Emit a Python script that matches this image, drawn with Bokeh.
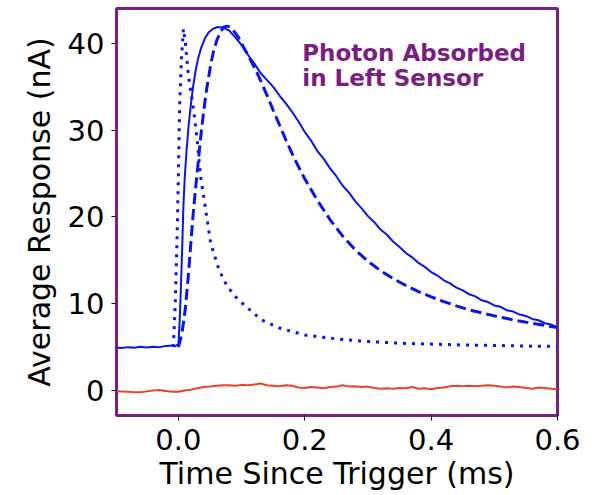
from bokeh.plotting import figure
from bokeh.models import Range1d, FixedTicker, PrintfTickFormatter, Label
from bokeh.embed import file_html
from bokeh.resources import INLINE

# ---- data ----
t_meas = [-0.10, -0.09, -0.08, -0.07, -0.06, -0.05, -0.04, -0.03, -0.02, -0.01, -0.005, 0.0,
          0.002, 0.004, 0.006, 0.008, 0.010, 0.013, 0.016, 0.019, 0.023, 0.027, 0.031, 0.036,
          0.042, 0.048, 0.055, 0.062, 0.07,
          0.08, 0.09, 0.10, 0.11, 0.12, 0.13, 0.14, 0.15, 0.16, 0.17, 0.18, 0.19, 0.20,
          0.21, 0.22, 0.23, 0.24, 0.25, 0.26, 0.27, 0.28, 0.29, 0.30, 0.31, 0.32, 0.33,
          0.34, 0.35, 0.36, 0.37, 0.38, 0.39, 0.40, 0.41, 0.42, 0.43, 0.44, 0.45, 0.46,
          0.47, 0.48, 0.49, 0.50, 0.51, 0.52, 0.53, 0.54, 0.55, 0.56, 0.57, 0.58, 0.59, 0.60]
v_meas = [4.95, 4.9, 5.0, 4.92, 5.05, 4.95, 5.05, 5.0, 5.12, 5.2, 5.1, 5.35,
          8.0, 12.0, 16.5, 21.5, 24.5, 27.8, 30.4, 32.5, 34.9, 36.8, 38.2, 39.5,
          40.6, 41.3, 41.7, 41.9, 41.85,
          41.5, 40.7, 39.8, 38.7, 37.7, 36.6, 35.8, 35.0, 34.0, 33.1, 32.1, 31.0, 29.8,
          28.8, 27.6, 26.7, 25.6, 24.7, 23.6, 22.8, 21.8, 21.0, 20.1, 19.4, 18.55, 17.95,
          17.15, 16.55, 15.85, 15.35, 14.7, 14.25, 13.65, 13.25, 12.7, 12.35, 11.85, 11.55, 11.1,
          10.85, 10.4, 10.2, 9.8, 9.65, 9.25, 9.1, 8.75, 8.6, 8.25, 8.1, 7.75, 7.6, 7.3]

t_model_a = [0.0, 0.003, 0.006, 0.008, 0.011, 0.016, 0.020, 0.024, 0.028, 0.032,
             0.036, 0.040, 0.044, 0.048, 0.052, 0.056, 0.061, 0.067, 0.072, 0.077,
             0.082, 0.087, 0.095, 0.103, 0.112, 0.122, 0.132, 0.141, 0.150, 0.160,
             0.170, 0.180, 0.190,
             0.20, 0.22, 0.24, 0.26, 0.28, 0.30, 0.32, 0.34, 0.36, 0.38, 0.40,
             0.42, 0.44, 0.46, 0.48, 0.50, 0.52, 0.54, 0.56, 0.58, 0.60]
v_model_a = [5.0, 5.8, 6.9, 7.8, 9.5, 13.5, 17.3, 20.9, 23.9, 26.8,
             29.7, 32.2, 34.4, 36.2, 37.9, 39.2, 40.4, 41.4, 41.9, 42.0,
             41.9, 41.5, 40.7, 39.6, 38.4, 37.0, 35.4, 33.9, 32.3, 30.6,
             28.9, 27.3, 25.8,
             24.4, 21.9, 19.7, 17.8, 16.2, 14.9, 13.8, 12.9, 12.1, 11.4, 10.8,
             10.25, 9.75, 9.3, 8.95, 8.6, 8.3, 8.0, 7.75, 7.5, 7.25]

t_model_b = [-0.008, -0.005, -0.002, 0.0, 0.002, 0.005, 0.008, 0.011, 0.016, 0.024,
             0.030, 0.035, 0.043, 0.051, 0.064, 0.077, 0.093, 0.11, 0.13, 0.16,
             0.20, 0.25, 0.30, 0.35, 0.40, 0.45, 0.50, 0.55, 0.60]
v_model_b = [5.0, 10.0, 18.0, 25.0, 33.0, 38.5, 41.7, 40.1, 36.2, 32.4,
             28.6, 24.7, 20.9, 17.0, 13.95, 12.0, 10.6, 9.5, 8.2, 7.2,
             6.4, 5.95, 5.65, 5.45, 5.35, 5.25, 5.2, 5.12, 5.08]

t_right = [-0.10, -0.09, -0.08, -0.07, -0.06, -0.05, -0.04, -0.03, -0.02, -0.01,
           0.00, 0.01, 0.02, 0.03, 0.04, 0.05, 0.06, 0.07, 0.08, 0.09,
           0.10, 0.11, 0.12, 0.13, 0.14, 0.15, 0.16, 0.17, 0.18, 0.19,
           0.20, 0.21, 0.22, 0.23, 0.24, 0.25, 0.26, 0.27, 0.28, 0.29,
           0.30, 0.31, 0.32, 0.33, 0.34, 0.35, 0.36, 0.37, 0.38, 0.39,
           0.40, 0.41, 0.42, 0.43, 0.44, 0.45, 0.46, 0.47, 0.48, 0.49,
           0.50, 0.51, 0.52, 0.53, 0.54, 0.55, 0.56, 0.57, 0.58, 0.59, 0.60]
v_right = [-0.05, -0.1, -0.15, -0.2, -0.2, -0.1, 0.0, 0.05, -0.05, -0.15,
           -0.15, 0.0, 0.1, 0.25, 0.4, 0.45, 0.55, 0.6, 0.6, 0.55,
           0.65, 0.6, 0.7, 0.8, 0.6, 0.55, 0.5, 0.6, 0.55, 0.35,
           0.3, 0.4, 0.35, 0.25, 0.4, 0.45, 0.6, 0.45, 0.5, 0.4,
           0.45, 0.3, 0.2, 0.25, 0.2, 0.3, 0.25, 0.4, 0.2, 0.25,
           0.15, 0.3, 0.35, 0.5, 0.55, 0.5, 0.55, 0.5, 0.55, 0.6,
           0.55, 0.45, 0.35, 0.45, 0.4, 0.3, 0.2, 0.35, 0.3, 0.2, 0.15]

x_ticks = [0.0, 0.2, 0.4, 0.6]
y_ticks = [0, 10, 20, 30, 40]
annotation = ["Photon Absorbed", "in Left Sensor"]

BLUE = "#0a14ea"
RED = "#e8432e"
PURPLE = "#7a1e82"
FONT = "DejaVu Sans"

p = figure(width=597, height=494, output_backend="svg", toolbar_location=None,
           x_range=Range1d(-0.098, 0.6), y_range=Range1d(-2.88, 44.03),
           min_border_left=116, min_border_right=40, min_border_top=8, min_border_bottom=79)

p.grid.visible = False
p.background_fill_color = "white"
p.border_fill_color = "white"
p.outline_line_color = PURPLE
p.outline_line_width = 3

p.line(t_right, v_right, line_color=RED, line_width=2)
p.line(t_model_b, v_model_b, line_color=BLUE, line_width=3, line_dash="3 6")
p.line(t_model_a, v_model_a, line_color=BLUE, line_width=3, line_dash="11 5")
p.line(t_meas, v_meas, line_color=BLUE, line_width=2)

for ax in (p.xaxis[0], p.yaxis[0]):
    ax.axis_line_color = None
    ax.major_tick_line_color = "black"
    ax.major_tick_in = 0
    ax.major_tick_out = 5
    ax.minor_tick_line_color = None
    ax.major_label_text_font = FONT
    ax.major_label_text_font_size = "29px"
    ax.major_label_text_color = "black"
    ax.axis_label_text_font = FONT
    ax.axis_label_text_font_size = "30px"
    ax.axis_label_text_font_style = "normal"
    ax.axis_label_text_color = "black"

p.xaxis.ticker = FixedTicker(ticks=x_ticks)
p.xaxis.formatter = PrintfTickFormatter(format="%.1f")
p.yaxis.ticker = FixedTicker(ticks=y_ticks)
p.xaxis.axis_label = "Time Since Trigger (ms)"
p.yaxis.axis_label = "Average Response (nA)"
p.xaxis.major_label_standoff = 8
p.yaxis.major_label_standoff = 7
p.xaxis.axis_label_standoff = 3
p.yaxis.axis_label_standoff = 8

p.add_layout(Label(x=0.196, y=38.95, text=annotation[0], text_font=FONT,
                   text_font_size="23px", text_font_style="bold", text_color=PURPLE,
                   text_baseline="alphabetic"))
p.add_layout(Label(x=0.196, y=36.07, text=annotation[1], text_font=FONT,
                   text_font_size="23px", text_font_style="bold", text_color=PURPLE,
                   text_baseline="alphabetic"))

open("out.html", "w").write(file_html(p, INLINE))
